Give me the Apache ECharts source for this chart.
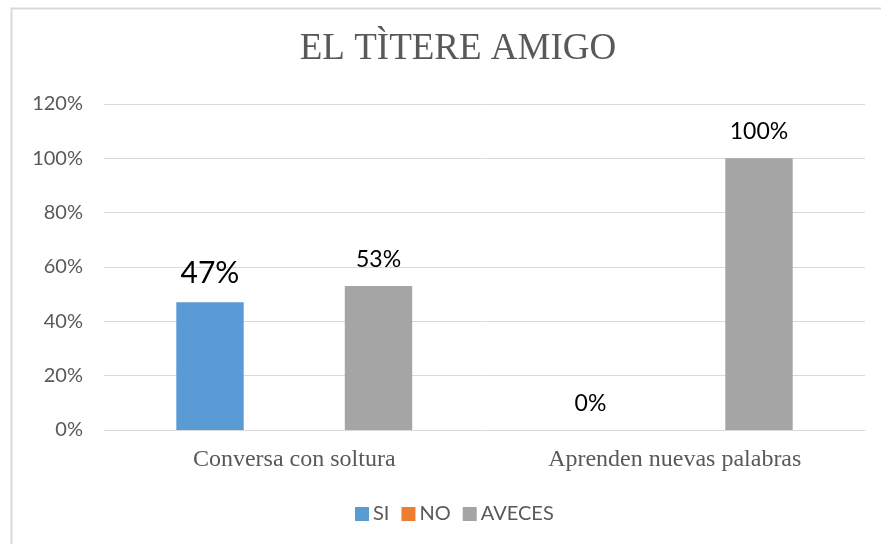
<!DOCTYPE html>
<html>
<head>
<meta charset="utf-8">
<script src="https://cdn.jsdelivr.net/npm/echarts@6/dist/echarts.min.js"></script>
<style>
  html, body { margin: 0; padding: 0; background: #fff; }
  #main { width: 881px; height: 544px; }
</style>
</head>
<body>
<div id="main"></div>
<script>
const CATEGORIES = ['Conversa con soltura', 'Aprenden nuevas palabras']
const SERIES_NAMES = ['SI', 'NO', 'AVECES']
const SI_VALUES = [47, 0]
const NO_VALUES = [null, null]
const AVECES_VALUES = [53, 100]
const Y_TICKS = [0, 20, 40, 60, 80, 100, 120]

const COLORS = ['#5B9BD5', '#ED7D31', '#A5A5A5']
const SANS = 'Lato, "Liberation Sans", sans-serif'
const SERIF = '"Liberation Serif", "DejaVu Serif", serif'

const baseLabel = {
  show: true, position: 'top', distance: 15,
  color: '#000', fontSize: 23, fontFamily: SANS,
  formatter: p => p.value == null ? '' : p.value + '%',
}

function makeSeries(name, values, color, bigFirst) {
  return {
    name, type: 'bar',
    barGap: '25%', barCategoryGap: '38%',
    itemStyle: { color },
    label: baseLabel,
    data: values.map((v, i) => (bigFirst && i === 0)
      ? { value: v, label: { fontSize: 30, distance: 14 } }
      : v),
  }
}

const chart = echarts.init(document.getElementById('main'), null, { renderer: 'canvas' })
chart.setOption({
  backgroundColor: '#fff',
  animation: false,
  title: {
    text: 'EL TÌTERE AMIGO',
    left: 453, top: 26, textAlign: 'center',
    textStyle: { fontFamily: SERIF, fontSize: 37, fontWeight: 'normal', color: '#595959' },
  },
  graphic: [{
    type: 'rect', silent: true,
    shape: { x: 11.5, y: 8.5, width: 900, height: 560 },
    style: { fill: 'none', stroke: '#D9D9D9', lineWidth: 2 },
  }],
  grid: { left: 104, right: 16, top: 104, bottom: 114, containLabel: false },
  legend: {
    left: 350, top: 499,
    itemWidth: 14, itemHeight: 14, itemGap: 12,
    icon: 'rect',
    textStyle: { color: '#595959', fontSize: 20, fontFamily: SANS, padding: [0, 0, 0, -1] },
    data: SERIES_NAMES,
  },
  xAxis: {
    type: 'category',
    data: CATEGORIES,
    axisLine: { lineStyle: { color: '#D9D9D9', width: 1 } },
    axisTick: { show: false },
    axisLabel: { color: '#595959', fontSize: 24, fontFamily: SERIF, margin: 18 },
  },
  yAxis: {
    type: 'value',
    min: Y_TICKS[0], max: Y_TICKS[Y_TICKS.length - 1], interval: 20,
    axisLine: { show: false },
    axisTick: { show: false },
    axisLabel: { color: '#595959', fontSize: 20, fontFamily: SANS, margin: 21, formatter: '{value}%' },
    splitLine: { lineStyle: { color: '#D9D9D9', width: 1 } },
  },
  series: [
    makeSeries(SERIES_NAMES[0], SI_VALUES, COLORS[0], true),
    makeSeries(SERIES_NAMES[1], NO_VALUES, COLORS[1], false),
    makeSeries(SERIES_NAMES[2], AVECES_VALUES, COLORS[2], false),
  ],
})
</script>
</body>
</html>
